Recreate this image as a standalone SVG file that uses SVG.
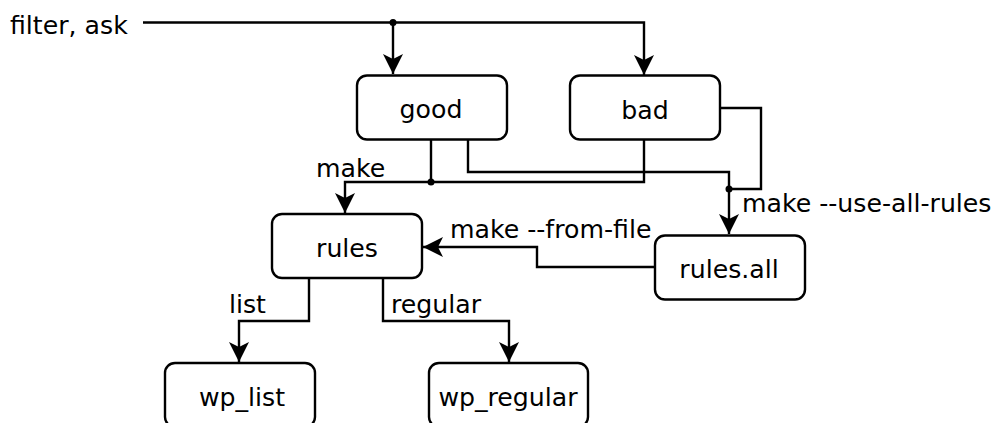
<svg xmlns="http://www.w3.org/2000/svg" width="995" height="423" viewBox="0 0 995 423">
<style>
.box{fill:#fff;stroke:#000;stroke-width:2.4}
.c{fill:none;stroke:#000;stroke-width:2.4}
text{font-family:"DejaVu Sans",sans-serif;font-size:25.2px;fill:#000}
.m{text-anchor:middle}
</style>
<defs>
<marker id="ah" markerUnits="userSpaceOnUse" markerWidth="22" markerHeight="22" viewBox="-21 -11 22 22" refX="0" refY="0" orient="auto">
<path d="M0,0 L-20,-10 L-15,0 L-20,10 Z" fill="#000"/>
</marker>
</defs>
<rect width="995" height="423" fill="#fff"/>
<g id="connectors">
<path class="c" d="M143,22.5 H644 V75" marker-end="url(#ah)"/>
<path class="c" d="M393,22.5 V74" marker-end="url(#ah)"/>
<path class="c" d="M431,140 V182"/>
<path class="c" d="M644,140 V182 H345 V213" marker-end="url(#ah)"/>
<path class="c" d="M468,140 V172 H729 V234" marker-end="url(#ah)"/>
<path class="c" d="M720,108 H761 V189 H729"/>
<path class="c" d="M655,267 H537 V247 H423" marker-end="url(#ah)"/>
<path class="c" d="M309,278 V321 H239 V362" marker-end="url(#ah)"/>
<path class="c" d="M383,278 V321 H509 V362" marker-end="url(#ah)"/>
<circle cx="393" cy="22.5" r="3.5"/>
<circle cx="431" cy="182" r="3.5"/>
<circle cx="729" cy="189" r="3.5"/>
<text x="10" y="34">filter, ask</text>
<text x="316" y="177">make</text>
<text x="742" y="212">make --use-all-rules</text>
<text x="450" y="238">make --from-file</text>
<text x="229" y="313">list</text>
<text x="391" y="313">regular</text>
</g>
<g id="good"><rect class="box" x="357" y="75.5" width="150" height="64" rx="10"/><text class="m" x="431" y="118">good</text></g>
<g id="bad"><rect class="box" x="570" y="75.5" width="150" height="64" rx="10"/><text class="m" x="645" y="119">bad</text></g>
<g id="rules"><rect class="box" x="272" y="214" width="150" height="64" rx="10"/><text class="m" x="347" y="257">rules</text></g>
<g id="rules_all"><rect class="box" x="655" y="235.5" width="150" height="64" rx="10"/><text class="m" x="729" y="278">rules.all</text></g>
<g id="wp_list"><rect class="box" x="165" y="363" width="150" height="64" rx="10"/><text class="m" x="242" y="406">wp_list</text></g>
<g id="wp_regular"><rect class="box" x="429" y="363" width="159" height="64" rx="10"/><text class="m" x="508" y="406">wp_regular</text></g>
</svg>
